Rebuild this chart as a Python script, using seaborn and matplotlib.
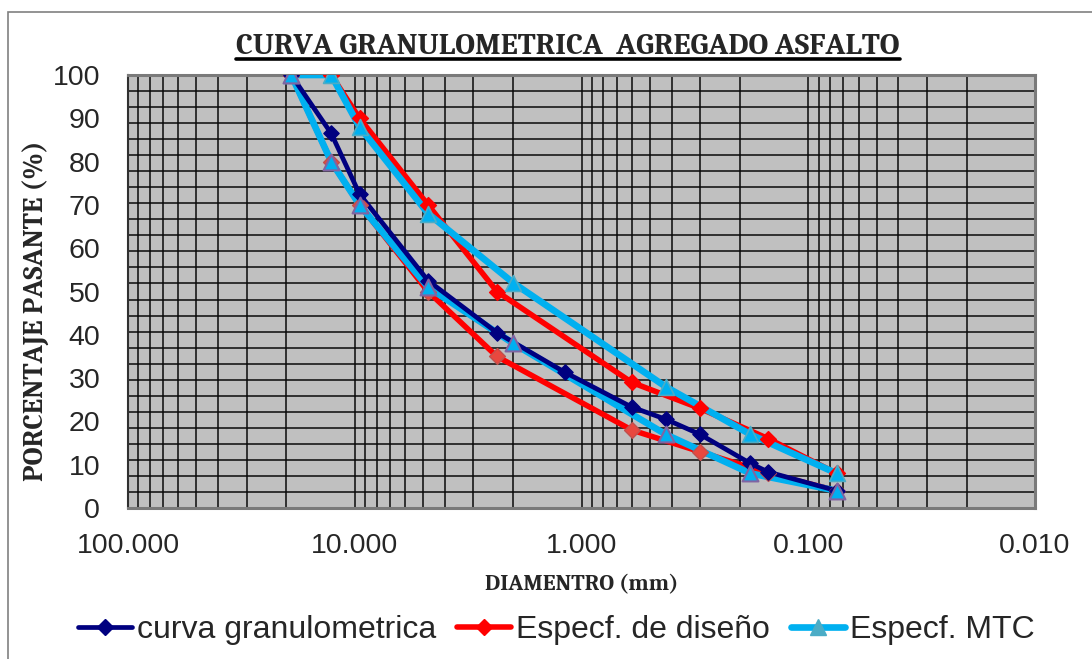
import matplotlib
matplotlib.use('Agg')
import matplotlib.pyplot as plt
import seaborn as sns
from matplotlib.ticker import LogLocator, MultipleLocator, FixedLocator, FuncFormatter, NullFormatter
from matplotlib.lines import Line2D
from matplotlib.patches import Rectangle

# datos
tamiz_curva = [19.05, 12.7, 9.525, 4.75, 2.36, 1.18, 0.6, 0.425, 0.3, 0.18, 0.15, 0.075]
pasa_curva = [100, 86.5, 72.5, 52.5, 40.5, 31.3, 23.3, 20.5, 17, 10.3, 8.3, 4]

tamiz_diseno = [19.05, 12.7, 9.525, 4.75, 2.36, 0.6, 0.3, 0.15, 0.075]
diseno_sup = [100, 100, 90, 70, 50, 29, 23, 16, 8]
diseno_inf = [100, 80, 70, 50, 35, 18, 13, 8, 4]

tamiz_mtc = [19.05, 12.7, 9.525, 4.75, 2.0, 0.425, 0.18, 0.075]
mtc_sup = [100, 100, 88, 68, 52, 28, 17, 8]
mtc_inf = [100, 80, 70, 51, 38, 17, 8, 4]

ticks_x = [100, 10, 1, 0.1, 0.01]
ticks_y = list(range(0, 101, 10))
etiquetas = ['curva granulometrica', 'Especf. de diseño', 'Especf. MTC']

azul = '#000080'
rojo = '#FF0000'
celeste = '#00B0F0'

sns.set_style('white')
plt.rcParams['font.family'] = ['Liberation Sans', 'DejaVu Sans']

fig = plt.figure(figsize=(10.92, 6.59), dpi=100)
ax = fig.add_axes([128 / 1092, 1 - 508 / 659, 907 / 1092, 433 / 659])
ax.set_facecolor('#C0C0C0')

# lineas primero, marcadores despues (como excel)
sns.lineplot(x=tamiz_diseno, y=diseno_inf, ax=ax, color=rojo, lw=4.0, sort=False, zorder=3, legend=False)
sns.lineplot(x=tamiz_diseno, y=diseno_sup, ax=ax, color=rojo, lw=4.0, sort=False, zorder=3, legend=False)
sns.lineplot(x=tamiz_mtc, y=mtc_sup, ax=ax, color=celeste, lw=4.8, sort=False, zorder=4, legend=False)
sns.lineplot(x=tamiz_mtc, y=mtc_inf, ax=ax, color=celeste, lw=4.8, sort=False, zorder=4, legend=False)
sns.lineplot(x=tamiz_curva, y=pasa_curva, ax=ax, color=azul, lw=3.4, sort=False, zorder=5, legend=False)

sns.scatterplot(x=tamiz_diseno, y=diseno_sup, ax=ax, marker='D', s=65, color=rojo, edgecolor=rojo, linewidth=1, zorder=6, legend=False)
sns.scatterplot(x=tamiz_diseno, y=diseno_inf, ax=ax, marker='D', s=65, color='#E8483F', edgecolor='#C0504D', linewidth=1, zorder=6, legend=False)
sns.scatterplot(x=tamiz_curva, y=pasa_curva, ax=ax, marker='D', s=60, color=azul, edgecolor=azul, linewidth=1, zorder=7, legend=False)
sns.scatterplot(x=tamiz_mtc, y=mtc_sup, ax=ax, marker='^', s=130, color=celeste, edgecolor='#4BACC6', linewidth=1.2, zorder=8, legend=False)
sns.scatterplot(x=tamiz_mtc, y=mtc_inf, ax=ax, marker='^', s=130, color=celeste, edgecolor='#8064A2', linewidth=1.5, zorder=8, legend=False)

ax.set_xscale('log')
ax.set_xlim(100, 0.01)
ax.set_ylim(0, 100)
ax.xaxis.set_major_locator(FixedLocator(ticks_x))
ax.xaxis.set_major_formatter(FuncFormatter(lambda v, p: f'{v:.3f}'))
ax.xaxis.set_minor_locator(LogLocator(base=10, subs=range(2, 10), numticks=50))
ax.xaxis.set_minor_formatter(NullFormatter())
ax.yaxis.set_major_locator(FixedLocator(ticks_y))
ax.yaxis.set_minor_locator(MultipleLocator(100 / 27))

# cuadricula tipo papel semilog
ax.set_axisbelow(True)
ax.grid(which='both', axis='x', color='#0a0a0a', lw=1.1)
ax.grid(which='minor', axis='y', color='#0a0a0a', lw=1.1)
ax.grid(which='major', axis='y', visible=False)

ax.tick_params(axis='both', which='minor', length=0)
ax.tick_params(axis='y', which='major', direction='out', length=7, width=1, color='black', pad=13, labelsize=20.5)
ax.tick_params(axis='x', which='major', direction='out', length=7, width=1, color='black', pad=11, labelsize=20.5)

for lado in ['top', 'right', 'bottom']:
    ax.spines[lado].set_color('#7a7a7a')
    ax.spines[lado].set_linewidth(2.2)
ax.spines['left'].set_color('#303030')
ax.spines['left'].set_linewidth(1.5)

ax.set_xlabel('DIAMENTRO (mm)', family='Caladea', weight='bold', fontsize=16.5, labelpad=11)
ax.set_ylabel('PORCENTAJE PASANTE (%)', family='Caladea', weight='bold', fontsize=20)
ax.yaxis.set_label_coords(-0.1025, 0.455)
ax.yaxis.label.set_va('center')

titulo = fig.text(568 / 1092, 1 - 46 / 659, 'CURVA GRANULOMETRICA  AGREGADO ASFALTO',
                  family='Caladea', weight='bold', fontsize=22, ha='center', va='center')

manejadores = [
    Line2D([], [], color=azul, lw=3.4, marker='D', ms=8, mfc=azul, mec=azul),
    Line2D([], [], color=rojo, lw=4.0, marker='D', ms=8, mfc=rojo, mec=rojo),
    Line2D([], [], color=celeste, lw=4.8, marker='^', ms=11, mfc='#4BACC6', mec='#4BACC6'),
]
fig.legend(manejadores, etiquetas, loc='center', bbox_to_anchor=(556 / 1092, 1 - 630 / 659), ncol=3,
           frameon=False, fontsize=23, handlelength=1.7, handletextpad=0.15, columnspacing=0.65)

# subrayado del titulo y borde del grafico
fig.canvas.draw()
bb = titulo.get_window_extent(fig.canvas.get_renderer())
inv = fig.transFigure.inverted()
(x0, y0), (x1, _) = inv.transform([(bb.x0, bb.y0 + 1), (bb.x1, bb.y0 + 1)])
fig.add_artist(Line2D([x0, x1], [y0, y0], transform=fig.transFigure, color='black', lw=2.6))
fig.add_artist(Rectangle((8 / 1092, -0.2), 1.5, 1.2 - 12 / 659, transform=fig.transFigure,
                         fill=False, ec='#808080', lw=1.2))

plt.savefig('out.png', dpi=100)
